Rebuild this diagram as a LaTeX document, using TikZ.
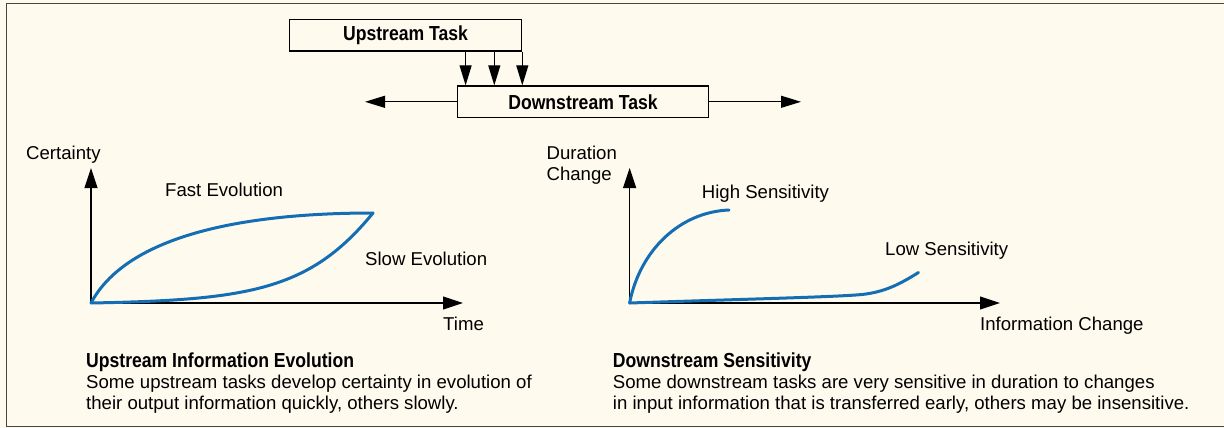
\documentclass[tikz,border=0pt]{standalone}
\usepackage{fontspec}
\setmainfont{Liberation Sans}
\newfontfamily\condfont[FakeStretch=0.867]{Liberation Sans}
\usetikzlibrary{arrows.meta,calc}
\definecolor{bg}{RGB}{255,250,238}
\definecolor{frm}{RGB}{70,70,66}
\definecolor{curve}{RGB}{20,110,180}
\begin{document}
\begin{tikzpicture}[x=1pt,y=-1pt,
  lbl/.style={inner sep=0pt,anchor=base west,font=\fontsize{18.6}{21}\selectfont},
  bld/.style={inner sep=0pt,anchor=base west,font=\condfont\fontsize{20.3}{21}\selectfont\bfseries},
  taskbox/.style={draw,line width=1.2pt,minimum height=31.7pt,inner sep=0pt,font=\condfont\fontsize{20.3}{21}\selectfont\bfseries},
  arr/.style={line width=1.1pt,-{Triangle[length=20pt,width=12pt]}},
  axis/.style={line width=1.1pt,-{Triangle[length=20pt,width=13pt]}},
  evo/.style={draw=curve,line width=3pt,line cap=round,line join=round}]
\fill[bg] (0,0) rectangle (1224,428);
\useasboundingbox (0,0) rectangle (1224,428);
\draw[frm,line width=1.6pt] (1230,3.5) -- (6.5,3.5) -- (6.5,426.5) -- (1230,426.5);

% tasks
\node[taskbox,minimum width=232.4pt] (up) at (405.5,35.2) {Upstream Task};
\node[taskbox,minimum width=250.6pt] (down) at (583,101.8) {Downstream Task};
\draw[arr] ($(up.south east)+(-56.7,0)$) -- ($(up.south east |- down.north)+(-56.7,0)$);
\draw[arr] ($(up.south east)+(-28,0)$) -- ($(up.south east |- down.north)+(-28,0)$);
\draw[arr] (up.south east) -- (up.south east |- down.north);
\coordinate (lt) at (365,101.8);
\coordinate (rt) at (801,101.8);
\draw[arr] (down.west) -- (lt);
\draw[arr] (down.east) -- (rt);

% left graph
\coordinate (o1) at (91,303);
\coordinate (y1) at (91,168);
\coordinate (x1) at (463,303);
\coordinate (e1) at (373,213);
\draw[axis] (o1) -- (y1);
\draw[axis] (o1) -- (x1);
\draw[evo] (o1) .. controls (130,230) and (260,213) .. (e1);
\draw[evo] (o1) .. controls (250,300) and (310,290) .. (e1);
\node[lbl] (cert) at (26,159.5) {Certainty};
\node[lbl] (fast) at (165,196.5) {Fast Evolution};
\node[lbl] (slow) at (365,265.5) {Slow Evolution};
\node[lbl] (time) at (443,330.5) {Time};
\node[bld] (capLa) at (86,367.5) {Upstream Information Evolution};
\node[lbl] (capLb) at (86,388.5) {Some upstream tasks develop certainty in evolution of};
\node[lbl] (capLc) at (86,409.5) {their output information quickly, others slowly.};

% right graph
\coordinate (o2) at (629.6,303);
\coordinate (y2) at (629.6,168);
\coordinate (x2) at (1000,303);
\coordinate (h2) at (729,210);
\coordinate (k2) at (862,294.5);
\coordinate (l2) at (918.5,272.5);
\draw[axis] (o2) -- (y2);
\draw[axis] (o2) -- (x2);
\draw[evo] (o2) .. controls (640,250) and (680,212) .. (h2);
\draw[evo] (o2) .. controls (750,299) and (835,297) .. (k2) .. controls (885,292) and (900,284) .. (l2);
\node[lbl] (durA) at (546.4,159.5) {Duration};
\node[lbl] (durB) at (546.4,180.5) {Change};
\node[lbl] (high) at (701.7,198) {High Sensitivity};
\node[lbl] (low) at (885,255.5) {Low Sensitivity};
\node[lbl] (info) at (980,330.5) {Information Change};
\node[bld] (capRa) at (612.7,367.5) {Downstream Sensitivity};
\node[lbl] (capRb) at (612.7,388.5) {Some downstream tasks are very sensitive in duration to changes};
\node[lbl] (capRc) at (612.7,409.5) {in input information that is transferred early, others may be insensitive.};
\end{tikzpicture}
\end{document}
